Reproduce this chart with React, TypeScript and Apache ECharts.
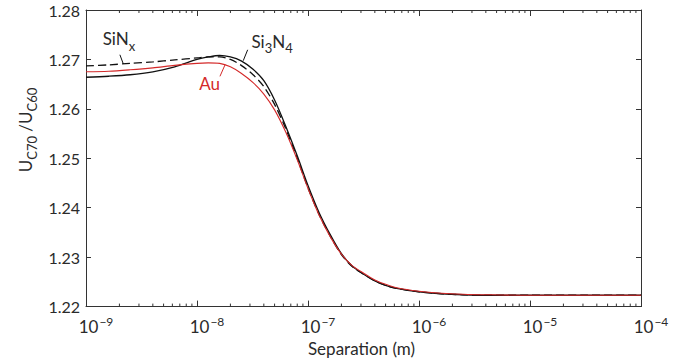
import React, { useEffect, useRef } from "react";
import * as echarts from "echarts";

// Separation (m)
const SEPARATION = [
  1e-9, 1.6e-9, 2.5e-9, 4e-9, 6.3e-9, 1e-8, 1.26e-8, 1.6e-8, 2e-8, 2.5e-8, 3.2e-8,
  4e-8, 5e-8, 6.3e-8, 8e-8, 1e-7, 1.26e-7, 1.6e-7, 2e-7, 2.5e-7, 3.2e-7, 4e-7,
  5e-7, 6.3e-7, 1e-6, 1.6e-6, 2.5e-6, 4e-6, 1e-5, 3.2e-5, 1e-4,
];

const SI3N4 = [
  1.2664, 1.2666, 1.2669, 1.2675, 1.2685, 1.27, 1.2705, 1.2708, 1.2705, 1.2697,
  1.268, 1.2657, 1.2618, 1.2565, 1.2505, 1.2445, 1.239, 1.2344, 1.2307, 1.2282,
  1.2265, 1.2252, 1.2243, 1.2237, 1.223, 1.2226, 1.2224, 1.2223, 1.2223, 1.2223,
  1.2223,
];

const SINX = [
  1.2687, 1.2689, 1.2692, 1.2695, 1.2699, 1.2703, 1.2705, 1.2705, 1.27, 1.2688,
  1.2669, 1.2645, 1.2609, 1.256, 1.25, 1.244, 1.2386, 1.2341, 1.2305, 1.2281,
  1.2265, 1.2252, 1.2243, 1.2237, 1.223, 1.2226, 1.2224, 1.2223, 1.2223, 1.2223,
  1.2223,
];

const AU = [
  1.2675, 1.2676, 1.2679, 1.2683, 1.2688, 1.2692, 1.2693, 1.2692, 1.2685, 1.2672,
  1.2653, 1.263, 1.2598, 1.2553, 1.2497, 1.2439, 1.2385, 1.234, 1.2306, 1.2283,
  1.2267, 1.2254, 1.2245, 1.2238, 1.2231, 1.2227, 1.2225, 1.2224, 1.2223, 1.2223,
  1.2223,
];

const X_MIN = 1e-9;
const X_MAX = 1e-4;
const Y_MIN = 1.22;
const Y_MAX = 1.28;
const Y_STEP = 0.01;

// minor tick multipliers within each decade, decades covered
const MINOR_MULT = [2, 3, 4, 5, 6, 7, 8, 9];
const DECADES = [-9, -8, -7, -6, -5];

const FONT = "Lato, 'DejaVu Sans', sans-serif";
const TEXT = "#2a2a2a";
const AXIS = "#333333";
const RED = "#d42a2a";

export default function App() {
  const ref = useRef<HTMLDivElement>(null);

  useEffect(() => {
    if (!ref.current) return;
    const chart = echarts.init(ref.current, null, { renderer: "svg" });

    const minorTicks: number[][] = [];
    DECADES.forEach((d) => {
      MINOR_MULT.forEach((m) => {
        minorTicks.push([m * Math.pow(10, d), (Y_MIN + Y_MAX) / 2]);
      });
    });

    const pair = (ys: number[]) => SEPARATION.map((x, i) => [x, ys[i]]);

    const sub = { fontSize: 13, verticalAlign: "bottom", padding: [0, 0, -5, 0], fontFamily: FONT };

    const option: any = {
      animation: false,
      textStyle: { fontFamily: FONT },
      grid: { left: 86, right: 54, top: 10, bottom: 53 },
      graphic: [
        {
          type: "text",
          x: 25,
          y: 130,
          rotation: Math.PI / 2,
          silent: true,
          style: {
            text: "U{sub|C70} /U{sub|C60}",
            fontSize: 17,
            fontFamily: FONT,
            fill: TEXT,
            align: "center",
            verticalAlign: "middle",
            rich: { sub: { ...sub, fill: TEXT } },
          },
        },
      ],
      xAxis: [
        {
          type: "log",
          logBase: 10,
          min: X_MIN,
          max: X_MAX,
          position: "bottom",
          name: "Separation (m)",
          nameLocation: "middle",
          nameGap: 30,
          nameTextStyle: { fontSize: 17, color: TEXT, fontFamily: FONT, padding: [0, 0, 0, -4] },
          axisLine: { show: true, onZero: false, lineStyle: { color: AXIS, width: 1 } },
          axisTick: { show: true, inside: true, length: 6, lineStyle: { color: AXIS } },
          splitLine: { show: false },
          axisLabel: {
            margin: 9,
            color: TEXT,
            formatter: (v: number) => {
              const e = Math.round(Math.log10(v));
              return `{b|10}{s|\u2212${-e}}`;
            },
            rich: {
              b: { fontSize: 17, color: TEXT, fontFamily: FONT, padding: [0, 0, 0, 20] },
              s: { fontSize: 12, color: TEXT, fontFamily: FONT, verticalAlign: "top", padding: [0, 0, 10, 1] },
            },
          },
        },
        {
          type: "log",
          logBase: 10,
          min: X_MIN,
          max: X_MAX,
          position: "top",
          axisLine: { show: true, onZero: false, lineStyle: { color: AXIS, width: 1 } },
          axisTick: { show: true, inside: true, length: 6, lineStyle: { color: AXIS } },
          axisLabel: { show: false },
          splitLine: { show: false },
        },
      ],
      yAxis: [
        {
          type: "value",
          min: Y_MIN,
          max: Y_MAX,
          interval: Y_STEP,
          position: "left",
          axisLine: { show: true, onZero: false, lineStyle: { color: AXIS, width: 1 } },
          axisTick: { show: true, inside: true, length: 5, lineStyle: { color: AXIS } },
          splitLine: { show: false },
          axisLabel: {
            margin: 6,
            fontSize: 16,
            color: TEXT,
            fontFamily: FONT,
            formatter: (v: number) => v.toFixed(2),
          },
        },
        {
          type: "value",
          min: Y_MIN,
          max: Y_MAX,
          interval: Y_STEP,
          position: "right",
          axisLine: { show: true, onZero: false, lineStyle: { color: AXIS, width: 1 } },
          axisTick: { show: true, inside: true, length: 5, lineStyle: { color: AXIS } },
          axisLabel: { show: false },
          splitLine: { show: false },
        },
      ],
      series: [
        {
          name: "minor ticks",
          type: "custom",
          xAxisIndex: 0,
          yAxisIndex: 0,
          clip: false,
          silent: true,
          data: minorTicks,
          renderItem: (params: any, api: any) => {
            const v = api.value(0);
            const b = api.coord([v, Y_MIN]);
            const t = api.coord([v, Y_MAX]);
            return {
              type: "group",
              children: [
                { type: "line", shape: { x1: b[0], y1: b[1], x2: b[0], y2: b[1] - 3 }, style: { stroke: AXIS, lineWidth: 1 } },
                { type: "line", shape: { x1: t[0], y1: t[1], x2: t[0], y2: t[1] + 3 }, style: { stroke: AXIS, lineWidth: 1 } },
              ],
            };
          },
        },
        {
          name: "Si3N4",
          type: "line",
          data: pair(SI3N4),
          smooth: 0.3,
          showSymbol: false,
          lineStyle: { color: "#111", width: 1.3 },
          markLine: {
            silent: true,
            symbol: ["none", "none"],
            label: { show: false },
            lineStyle: { color: "#111", width: 1, type: "solid" },
            data: [[{ coord: [2.86e-8, 1.27195] }, { coord: [2.61e-8, 1.26974] }]],
          },
          markPoint: {
            silent: true,
            symbol: "circle",
            symbolSize: 1,
            itemStyle: { color: "transparent" },
            data: [
              {
                coord: [4.75e-8, 1.2737],
                label: {
                  show: true,
                  position: "inside",
                  formatter: "Si{sub|3}N{sub|4}",
                  fontSize: 17,
                  color: TEXT,
                  fontFamily: FONT,
                  rich: { sub: { ...sub, color: TEXT } },
                },
              },
            ],
          },
        },
        {
          name: "SiNx",
          type: "line",
          data: pair(SINX),
          smooth: 0.3,
          showSymbol: false,
          lineStyle: { color: "#111", width: 1.3, type: [8, 4] },
          markLine: {
            silent: true,
            symbol: ["none", "none"],
            label: { show: false },
            lineStyle: { color: "#111", width: 1, type: "solid" },
            data: [[{ coord: [2.02e-9, 1.27095] }, { coord: [2.17e-9, 1.26907] }]],
          },
          markPoint: {
            silent: true,
            symbol: "circle",
            symbolSize: 1,
            itemStyle: { color: "transparent" },
            data: [
              {
                coord: [1.98e-9, 1.2742],
                label: {
                  show: true,
                  position: "inside",
                  formatter: "SiN{sub|x}",
                  fontSize: 17,
                  color: TEXT,
                  fontFamily: FONT,
                  rich: { sub: { ...sub, color: TEXT } },
                },
              },
            ],
          },
        },
        {
          name: "Au",
          type: "line",
          data: pair(AU),
          smooth: 0.3,
          showSymbol: false,
          lineStyle: { color: RED, width: 1.1 },
          markLine: {
            silent: true,
            symbol: ["none", "none"],
            label: { show: false },
            lineStyle: { color: RED, width: 1, type: "solid" },
            data: [[{ coord: [1.79e-8, 1.26893] }, { coord: [1.61e-8, 1.26658] }]],
          },
          markPoint: {
            silent: true,
            symbol: "circle",
            symbolSize: 1,
            itemStyle: { color: "transparent" },
            data: [
              {
                coord: [1.3e-8, 1.2652],
                label: {
                  show: true,
                  position: "inside",
                  formatter: "Au",
                  fontSize: 17,
                  color: RED,
                  fontFamily: FONT,
                },
              },
            ],
          },
        },
      ],
    };

    chart.setOption(option);
    return () => chart.dispose();
  }, []);

  return (
    <div
      ref={ref}
      style={{ position: "fixed", left: 0, top: 0, width: 695, height: 362, background: "#fff" }}
    />
  );
}
